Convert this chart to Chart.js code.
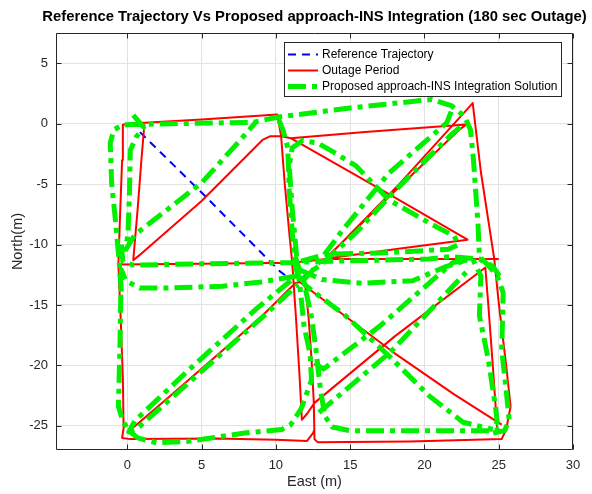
<!DOCTYPE html>
<html>
<head>
<meta charset="utf-8">
<script src="https://cdn.jsdelivr.net/npm/chart.js@4/dist/chart.umd.min.js"></script>
<style>
  html, body { margin: 0; padding: 0; background: #fff; }
  #plot { display: block; }
</style>
</head>
<body>
<canvas id="plot" width="592" height="494"></canvas>
<script>
// ---- labels and axes ----
const chartTitle = 'Reference Trajectory Vs Proposed approach-INS Integration (180 sec Outage)';
const xTitle = 'East (m)';
const yTitle = 'North(m)';
const xTicks = [0, 5, 10, 15, 20, 25, 30];
const yTicks = [-25, -20, -15, -10, -5, 0, 5];
const xRange = [-4.8, 30];
const yRange = [-27, 7.5];

// ---- reference trajectory (East, North in metres) ----
const referenceTrajectory = [[0.85, -0.7], [5.0, -5.7], [10.25, -12.2], [10.9, -12.8]];

// ---- trajectory during the outage, recorded as separate passes ----
const outagePassA = [[-0.6, -11.65], [-0.5, -8], [-0.35, -3], [-0.3, -0.1], [0.3, 0.02], [5, 0.35], [10.1, 0.75],
  [10.35, -1.0], [10.6, -5], [10.9, -9], [11.1, -11.5], [11.35, -16], [11.6, -21], [11.75, -24.5], [12.1, -24.0],
  [12.6, -23.1], [18, -17.6], [24.1, -11.9], [24.3, -15], [24.6, -20], [24.9, -25.3]];
const outagePassB = [[1.15, -0.05], [0.95, -3], [0.7, -7], [0.4, -11.3], [0.8, -10.9], [5, -6.4], [9.1, -1.35],
  [9.6, -1.05], [10.4, -1.05], [11.0, -1.2], [16, -0.7], [22.8, -0.08], [22.4, -0.45], [18, -5.6], [13.4, -11.1]];
const outagePassC = [[11.0, -1.2], [17, -5.4], [22.9, -9.6], [18.5, -10.3], [13.4, -11.15], [18.3, -5.0], [23.25, 1.7],
  [23.8, -4], [24.3, -8], [24.7, -11.2], [25.0, -14.8], [25.5, -20], [25.8, -23.4], [25.5, -25.3], [25.2, -26.1],
  [19, -26.3], [12.8, -26.35], [12.6, -26.1], [12.55, -23], [12.4, -19.5], [12.2, -16], [11.9, -12.5]];
const outagePassD = [[-0.6, -11.65], [5, -11.6], [11.1, -11.5], [13.4, -11.2], [19, -11.2], [25.0, -11.2]];
const outagePassE = [[-0.6, -11.65], [-0.45, -16], [-0.3, -21], [-0.25, -25.2], [-0.35, -26.0], [0.2, -26.1],
  [6, -26.05], [10, -26.15], [12.1, -26.25], [12.5, -25.6], [12.6, -25.3]];
const outagePassF = [[0.15, -25.4], [3, -22.4], [6, -19.2], [9, -16.0], [11.3, -13.2], [11.6, -13.1], [18, -19],
  [22, -22.4], [25.2, -24.9]];

// ---- integrated solution, same passes ----
const solutionOuter = [[-0.4, -13.9], [-0.55, -11.4], [-0.8, -8], [-1.05, -5], [-1.15, -1.6], [-0.9, -0.5], [-0.3, -0.1],
  [3, 0.0], [8.4, 0.1], [10.2, 0.55], [15, 1.3], [20.5, 2.0], [21.8, 1.5], [22.7, 0.6], [23.1, -0.5], [23.3, -3],
  [23.6, -8.2], [23.7, -11.0], [24.2, -11.6], [24.9, -12.6], [25.3, -14], [25.25, -16.5], [25.2, -18.7], [25.5, -22],
  [25.7, -24.5], [25.4, -25.4], [24.6, -25.6]];
const solutionInnerWest = [[0.4, 0.7], [1.1, -0.3], [0.6, -1.1], [0.2, -2.2], [0.15, -5.5], [0.05, -9.0], [-0.1, -10.4],
  [0.5, -9.2], [2.5, -7.3], [5, -4.9], [7.5, -1.5], [8.7, 0.2]];
const solutionMiddle = [[-0.4, -10.0], [-0.3, -11.4], [0.4, -11.7], [5, -11.6], [10.9, -11.5], [13, -11.4], [20.3, -11.2],
  [21.7, -11.0], [23.7, -11.2], [24.6, -11.8], [25.05, -12.6]];
const solutionNorthEastX = [[11.4, -11.0], [11.1, -7], [10.9, -3.5], [11.1, -2.0], [11.8, -1.4], [12.8, -1.6], [13.8, -2.3],
  [15.4, -3.5], [17.6, -6.3], [20.3, -8.2], [22.0, -9.3], [22.3, -10.0], [21.6, -10.4], [17, -10.7], [13.4, -10.8], [11.6, -11.4]];
const solutionColumn = [[10.2, 0.3], [10.5, -0.6], [10.8, -2.0], [10.9, -5.5], [11.1, -9], [11.3, -11.5], [11.5, -12.8]];
const solutionDiagNE1 = [[21.8, 1.0], [21.5, 0.06], [17.6, -4.1], [14.5, -8.8], [12.5, -12.1], [11.9, -12.9]];
const solutionDiagNE2 = [[22.4, -0.3], [21.9, -0.8], [18.1, -5.45], [15.4, -9.0], [13.2, -11.5], [12.0, -12.6]];
const solutionSouthWest = [[11.4, -12.6], [9, -13.1], [6.4, -13.45], [2.5, -13.6], [0.83, -13.6], [-0.1, -13.0], [-0.4, -12.1],
  [-0.45, -15], [-0.5, -18.7], [-0.6, -23.4], [-0.3, -24.6], [0.1, -25.4], [0.7, -26.0], [1.96, -26.4], [4, -26.3],
  [5.66, -26.0], [7.9, -25.6], [10.4, -25.3], [11.0, -24.9], [11.7, -23.6], [12.4, -21.2], [12.3, -19], [11.9, -16.8],
  [11.6, -13.2], [11.3, -11.0]];
const solutionSouthEast = [[11.3, -11.0], [11.9, -13.2], [12.4, -16], [12.7, -18.7], [13.0, -22], [13.3, -24.2], [13.8, -25.1],
  [15, -25.4], [20, -25.4], [24.8, -25.4], [25.2, -25.0]];
const solutionDiagSW = [[11.0, -13.0], [8.7, -15.3], [4.2, -20.3], [0.5, -24.6], [0.1, -25.5], [0.6, -25.3], [4.9, -20.6],
  [9.1, -16.0], [11.5, -13.3]];
const solutionDiagSE = [[11.7, -12.6], [12.0, -13.4], [14.7, -15.9], [17.6, -19.2], [20.3, -22.5], [22.6, -24.7], [24.6, -25.3]];
const solutionDiagSE2 = [[12.6, -19.8], [13.2, -20.3], [17.0, -16.75], [21.9, -11.5], [23.25, -11.2], [23.8, -12.6],
  [23.7, -15.9], [24.3, -19.5], [24.8, -23.6], [24.9, -24.7], [24.5, -25.3]];
const solutionDiagSE3 = [[12.9, -23.9], [17.8, -18.8], [22.8, -12.3]];
const solutionDip = [[11.6, -12.1], [13.1, -12.9], [15.8, -13.2], [19.2, -13.0], [21.5, -11.8], [22.8, -11.3]];

// passes are joined into one series, with a gap between passes
function joinPasses(passes) {
  const out = [];
  passes.forEach((p, i) => {
    if (i) out.push({ x: null, y: null });
    p.forEach(([x, y]) => out.push({ x, y }));
  });
  return out;
}

const FONT = '"Liberation Sans", Arial, Helvetica, sans-serif';
const INK = '#262626';

// box around the axes with inward tick marks
const axesBox = {
  id: 'axesBox',
  afterDatasetsDraw(chart) {
    const { ctx, chartArea: a, scales: { x, y } } = chart;
    const L = Math.round(a.left) + 0.5, R = Math.round(a.right) - 0.5;
    const T = Math.round(a.top) + 0.5, B = Math.round(a.bottom) - 0.5;
    ctx.save();
    ctx.strokeStyle = INK;
    ctx.lineWidth = 1;
    ctx.beginPath();
    ctx.rect(L, T, R - L, B - T);
    const len = 5;
    x.ticks.forEach(t => {
      const px = Math.round(x.getPixelForValue(t.value)) + 0.5;
      ctx.moveTo(px, B); ctx.lineTo(px, B - len);
      ctx.moveTo(px, T); ctx.lineTo(px, T + len);
    });
    y.ticks.forEach(t => {
      const py = Math.round(y.getPixelForValue(t.value)) + 0.5;
      ctx.moveTo(L, py); ctx.lineTo(L + len, py);
      ctx.moveTo(R, py); ctx.lineTo(R - len, py);
    });
    ctx.stroke();
    ctx.restore();
  }
};

// legend box inside the axes, top right
const boxLegend = {
  id: 'boxLegend',
  afterDraw(chart) {
    const { ctx } = chart;
    const bx = 284.5, by = 42.5, bw = 277, bh = 54;
    ctx.save();
    ctx.fillStyle = '#fff';
    ctx.fillRect(bx, by, bw, bh);
    ctx.strokeStyle = INK;
    ctx.lineWidth = 1;
    ctx.strokeRect(bx, by, bw, bh);
    ctx.font = `12px ${FONT}`;
    ctx.textBaseline = 'middle';
    ctx.textAlign = 'left';
    const rows = [54, 70, 86];
    chart.data.datasets.forEach((ds, i) => {
      const ry = rows[i] + 0.5;
      ctx.save();
      ctx.strokeStyle = ds.borderColor;
      ctx.lineWidth = ds.borderWidth;
      ctx.setLineDash(ds.borderDash || []);
      ctx.lineCap = 'butt';
      ctx.beginPath();
      ctx.moveTo(288, ry); ctx.lineTo(318, ry);
      ctx.stroke();
      ctx.restore();
      ctx.fillStyle = '#000';
      ctx.fillText(ds.label, 322, ry);
    });
    ctx.restore();
  }
};

// title centred over the axes
const axesTitle = {
  id: 'axesTitle',
  afterDraw(chart) {
    const { ctx, chartArea: a } = chart;
    ctx.save();
    ctx.font = `bold 14.8px ${FONT}`;
    ctx.fillStyle = '#000';
    ctx.textAlign = 'center';
    ctx.textBaseline = 'middle';
    ctx.fillText(chartTitle, (a.left + a.right) / 2, 17);
    ctx.restore();
  }
};

new Chart(document.getElementById('plot'), {
  type: 'scatter',
  data: {
    datasets: [
      {
        label: 'Reference Trajectory',
        data: joinPasses([referenceTrajectory]),
        showLine: true, borderColor: '#0000ff', borderWidth: 2, borderDash: [8, 6],
        pointRadius: 0, order: 3
      },
      {
        label: 'Outage Period',
        data: joinPasses([outagePassA, outagePassB, outagePassC, outagePassD, outagePassE, outagePassF]),
        showLine: true, borderColor: '#ff0000', borderWidth: 2,
        pointRadius: 0, order: 2
      },
      {
        label: 'Proposed approach-INS Integration Solution',
        data: joinPasses([solutionOuter, solutionInnerWest, solutionMiddle, solutionNorthEastX, solutionColumn,
          solutionDiagNE1, solutionDiagNE2, solutionSouthWest, solutionSouthEast, solutionDiagSW, solutionDiagSE,
          solutionDiagSE2, solutionDiagSE3, solutionDip]),
        showLine: true, borderColor: '#00f000', borderWidth: 5, borderDash: [18, 6, 5, 6],
        pointRadius: 0, order: 1
      }
    ]
  },
  options: {
    responsive: false,
    animation: false,
    devicePixelRatio: 1,
    spanGaps: false,
    elements: { line: { tension: 0, borderCapStyle: 'butt', borderJoinStyle: 'round' } },
    layout: { padding: { top: 33, right: 19, bottom: 0, left: 0 } },
    plugins: { legend: { display: false }, title: { display: false }, tooltip: { enabled: false } },
    scales: {
      x: {
        type: 'linear', position: 'bottom', min: xRange[0], max: xRange[1],
        afterBuildTicks: s => { s.ticks = xTicks.map(v => ({ value: v })); },
        afterFit: s => { s.height = 44; },
        grid: { color: '#e2e2e2', drawTicks: false },
        border: { display: false },
        ticks: { color: INK, font: { family: FONT, size: 13 }, padding: 8, maxRotation: 0 },
        title: { display: true, text: xTitle, color: INK, font: { family: FONT, size: 14.5 }, padding: { top: 0, bottom: 3 } }
      },
      y: {
        type: 'linear', position: 'left', min: yRange[0], max: yRange[1],
        afterBuildTicks: s => { s.ticks = yTicks.map(v => ({ value: v })); },
        afterFit: s => { s.width = 56; },
        grid: { color: '#e2e2e2', drawTicks: false },
        border: { display: false },
        ticks: { color: INK, font: { family: FONT, size: 13 }, padding: 8 },
        title: { display: true, text: yTitle, color: INK, font: { family: FONT, size: 14.5 }, padding: { top: 9, bottom: 0 } }
      }
    }
  },
  plugins: [axesBox, boxLegend, axesTitle]
});
</script>
</body>
</html>
